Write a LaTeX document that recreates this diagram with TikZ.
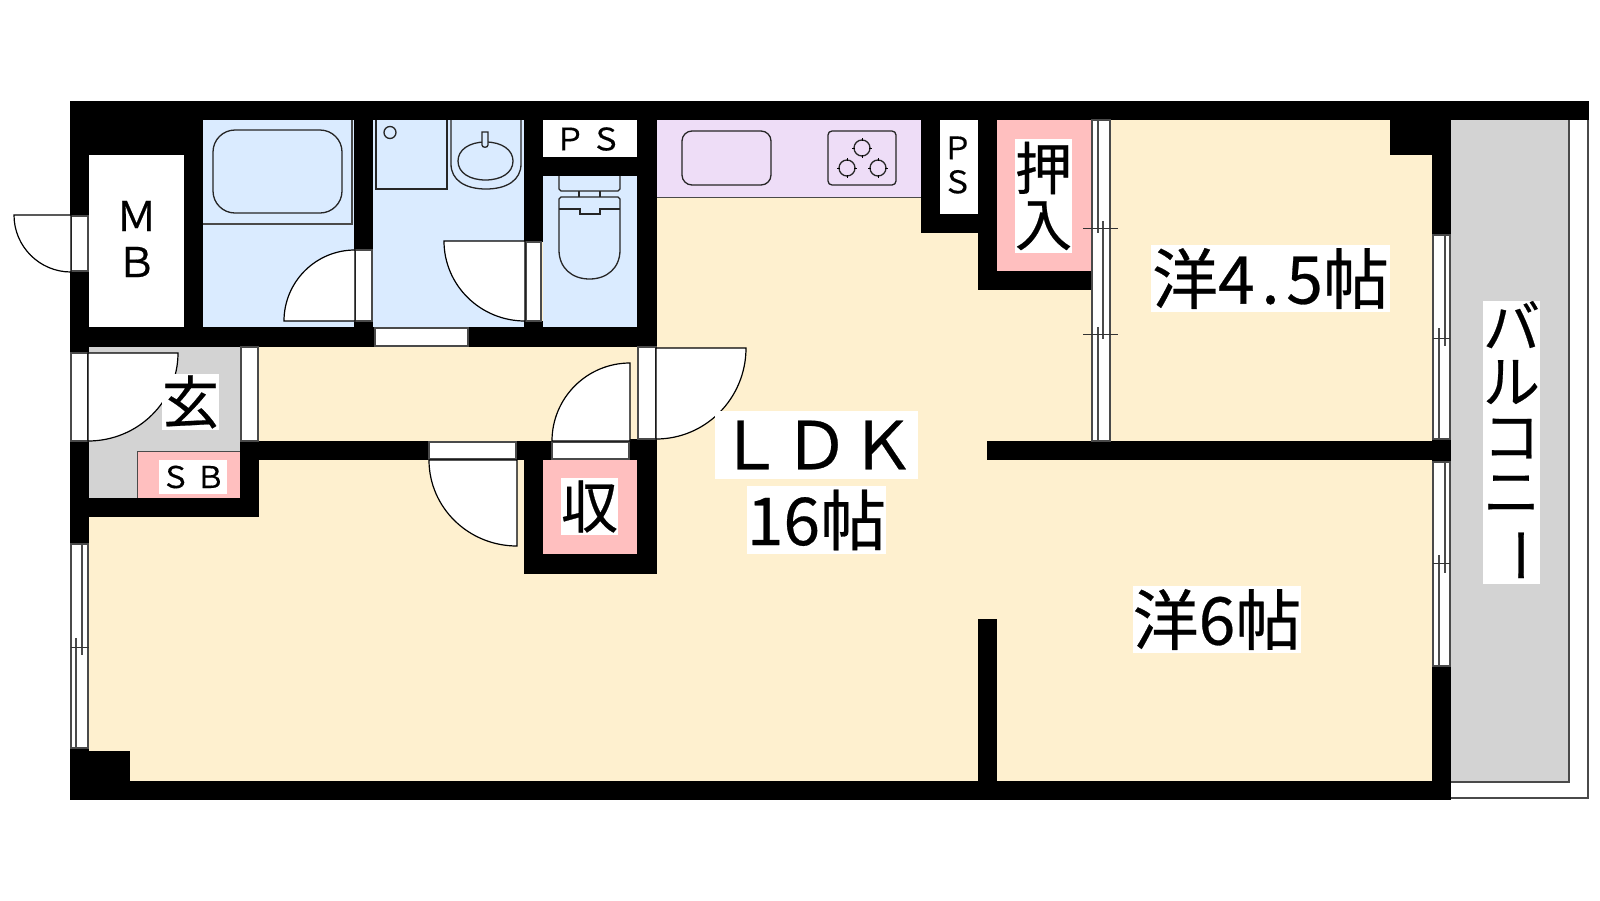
\documentclass[tikz,border=0pt]{standalone}
\usepackage{fontspec}
\setmainfont{Liberation Sans}
\newfontfamily\cjk[FakeBold=0.4]{Noto Sans CJK JP}
\definecolor{cream}{HTML}{FEF0CF}
\definecolor{bluefl}{HTML}{DAEBFF}
\definecolor{pinkfl}{HTML}{FFBFBF}
\definecolor{grayfl}{HTML}{D3D3D3}
\definecolor{purplefl}{HTML}{EEDDF7}
\definecolor{frameln}{HTML}{4A4A4A}
\tikzset{
  wallrect/.style={fill=black,draw=none},
  floorrect/.style={draw=none},
  frameb/.style={fill=white,draw=frameln,line width=1.3pt},
  leaf/.style={fill=white,draw=black,line width=1.2pt},
  fixt/.style={draw=black!85,line width=1.3pt},
  railln/.style={draw=frameln,line width=1.3pt},
  tick/.style={draw=black!80,line width=1pt},
  lab/.style={fill=white,inner sep=0pt,align=center,text=black},
}
\begin{document}
\begin{tikzpicture}[x=1pt,y=-1pt]
\useasboundingbox[fill=white] (0,0) rectangle (1600,900);
% floors
\fill[cream,floorrect] (89,120) rectangle (1432,781);
\fill[bluefl,floorrect] (203,120) rectangle (354,327);
\fill[bluefl,floorrect] (373,120) rectangle (524,327);
\fill[bluefl,floorrect] (543,176) rectangle (637,327);
\fill[white,floorrect] (89,155) rectangle (184,327);
\fill[white,floorrect] (543,120) rectangle (637,157);
\fill[white,floorrect] (940,120) rectangle (978,214);
\fill[purplefl,floorrect] (657,120) rectangle (921,197);
\draw[frameln,line width=1pt] (657,197) -- (921,197);
\fill[pinkfl,floorrect] (997,120) rectangle (1091,271);
\fill[grayfl,floorrect] (89,347) rectangle (241,498);
\fill[pinkfl,floorrect] (137,451) rectangle (240,498);
\draw[frameln,line width=1pt] (137,498) -- (137,451) -- (240,451);
\fill[pinkfl,floorrect] (543,460) rectangle (637,554);
\fill[grayfl,floorrect] (1451,120) rectangle (1569,782);
% walls
\foreach \xa/\ya/\xb/\yb in {
 70/101/1589/120, 70/101/89/216, 70/271/89/353, 70/441/89/544, 70/748/89/800,
 70/120/203/155, 184/120/203/327, 70/327/375/347, 468/327/657/347,
 354/120/373/250, 354/321/373/327, 524/120/543/242, 524/321/543/327,
 543/157/637/176, 637/101/657/347,
 921/120/940/233, 921/214/997/233, 978/120/997/290, 978/271/1091/290,
 1390/120/1432/155, 1432/120/1451/235, 1432/439/1451/462, 987/441/1432/460,
 1432/666/1451/800, 70/781/1451/800, 978/619/997/781, 70/751/130/800,
 241/441/429/460, 516/441/552/460, 629/439/657/460, 240/441/259/517, 70/498/259/517,
 524/460/543/574, 637/460/657/574, 524/554/657/574}
 {\fill[wallrect] (\xa,\ya) rectangle (\xb,\yb);}
% balcony outline
\draw[frameln,line width=1.6pt] (1569,120) -- (1569,782) -- (1451,782);
\draw[frameln,line width=1.4pt] (1451,798) -- (1588,798) -- (1588,120);
% doors: frames and leaves
\draw[frameb] (71,216) rectangle (88,271);
\draw[leaf] (71,215) -- (14,215) arc[start angle=180,end angle=90,radius=57] -- cycle;
\draw[frameb] (355,250) rectangle (372,321);
\draw[leaf] (355,321) -- (284,321) arc[start angle=180,end angle=270,radius=71] -- cycle;
\draw[frameb] (526,242) rectangle (541,321);
\draw[leaf] (525,241) -- (444,241) arc[start angle=180,end angle=90,x radius=81,y radius=80] -- cycle;
\draw[frameb] (375,328) rectangle (468,346);
\draw[frameb] (71,353) rectangle (88,441);
\draw[leaf] (88,353) -- (178,353) arc[start angle=0,end angle=90,x radius=90,y radius=88] -- cycle;
\draw[frameb] (241,347) rectangle (258,441);
\draw[frameb] (429,442) rectangle (516,459);
\draw[leaf] (517,460) -- (429,460) arc[start angle=180,end angle=90,x radius=88,y radius=86] -- cycle;
\draw[frameb] (552,442) rectangle (629,459);
\draw[leaf] (630,441) -- (552,441) arc[start angle=180,end angle=270,radius=78] -- cycle;
\draw[frameb] (638,347) rectangle (656,439);
\draw[leaf] (656,348) -- (746,348) arc[start angle=0,end angle=90,x radius=90,y radius=91] -- cycle;
% sliding windows
\draw[frameb] (1092,120) rectangle (1110,441);
\draw[railln] (1098,120) -- (1098,233) (1103,221) -- (1103,339) (1098,327) -- (1098,441);
\draw[tick] (1083,228) -- (1118,228) (1083,334) -- (1118,334);
\draw[frameb] (1433,235) rectangle (1450,439);
\draw[railln] (1445,235) -- (1445,346) (1439,328) -- (1439,439);
\draw[tick] (1433,338) -- (1450,338);
\draw[frameb] (1433,462) rectangle (1450,666);
\draw[railln] (1445,462) -- (1445,573) (1439,555) -- (1439,666);
\draw[tick] (1433,563) -- (1450,563);
\draw[frameb] (71,544) rectangle (88,748);
\draw[railln] (82,544) -- (82,655) (76,638) -- (76,748);
\draw[tick] (71,647) -- (89,647);
% bath
\draw[fixt,draw=frameln] (203,224) -- (352,224) -- (352,120);
\draw[fixt] (213,152) -- (213,191) arc[start angle=180,end angle=90,radius=22] -- (320,213) arc[start angle=90,end angle=0,radius=22] -- (342,152) arc[start angle=0,end angle=-90,radius=22] -- (235,130) arc[start angle=-90,end angle=-180,radius=22] -- cycle;
% wash
\draw[fixt] (376,120) -- (376,189) -- (447,189) -- (447,120);
\draw[fixt] (390,132.5) circle[radius=6];
\draw[fixt] (451,120) -- (451,164) .. controls (451,180) and (465,189) .. (486,189) .. controls (507,189) and (521,180) .. (521,164) -- (521,120);
\draw[fixt] (485.5,142) .. controls (469,142) and (458,150) .. (458,161) .. controls (458,173) and (470,180) .. (485.5,180) .. controls (501,180) and (513,173) .. (513,161) .. controls (513,150) and (502,142) .. (485.5,142);
\draw[fixt,fill=bluefl] (482,132) -- (482,145) .. controls (482,148) and (488,148) .. (488,145) -- (488,132) -- cycle;
% toilet
\draw[fixt] (559,176) -- (559,189) -- (561,191) -- (618,191) -- (620,189) -- (620,176);
\draw[fixt] (579,191) -- (579,197) (600,191) -- (600,197);
\draw[fixt] (561,197) -- (618,197) -- (620,199) -- (620,250) .. controls (620,268) and (607,279) .. (589.5,279) .. controls (572,279) and (559,268) .. (559,250) -- (559,199) -- cycle;
\draw[fixt] (559,209) -- (580,209) -- (580,214) -- (600,214) -- (600,209) -- (620,209);
% kitchen
\draw[fixt,rounded corners=10pt] (682,131) rectangle (771,185);
\draw[fixt,rounded corners=4pt] (828,131) rectangle (896,185);
\foreach \cx/\cy in {862/148,847/168,878/168}{
  \draw[fixt] (\cx,\cy) circle[radius=8];
  \draw[black,line width=1pt] (\cx-10,\cy) -- (\cx-7,\cy) (\cx+7,\cy) -- (\cx+10,\cy) (\cx,\cy-10) -- (\cx,\cy-7) (\cx,\cy+7) -- (\cx,\cy+10);
}
% labels
\node[lab,font=\fontsize{41}{46}\selectfont\cjk] (mb) at (136.5,239) {Ｍ\\Ｂ};
\node[lab,font=\fontsize{31}{31}\selectfont\cjk,minimum width=80pt] (ps1) at (588,139) {Ｐ\,Ｓ};
\node[lab,font=\fontsize{31}{34}\selectfont\cjk,minimum width=30pt] (ps2) at (957.5,165) {Ｐ\\Ｓ};
\node[lab,font=\fontsize{57}{56}\selectfont\cjk,minimum width=57pt,minimum height=114pt] (oshi) at (1043.5,196) {押\\入};
\node[lab,font=\fontsize{57}{57}\selectfont\cjk,minimum width=57pt,minimum height=56pt] (gen) at (190.5,402) {玄};
\node[lab,font=\fontsize{30}{30}\selectfont\cjk,minimum width=68pt,minimum height=34pt] (sb) at (193,477) {Ｓ\,Ｂ};
\node[lab,font=\fontsize{57}{57}\selectfont\cjk,minimum width=57pt,minimum height=57pt] (shu) at (589.5,506.5) {収};
\node[lab,font=\fontsize{66}{66}\selectfont\cjk,minimum width=203pt,minimum height=68pt] (ldk) at (816.5,445) {ＬＤＫ};
\node[lab,font=\fontsize{66}{66}\selectfont\cjk,minimum width=135pt,minimum height=68pt] (sixteen) at (816.5,520) {16帖};
\node[lab,font=\fontsize{66}{66}\selectfont\cjk,minimum width=239pt,minimum height=67pt] (y45) at (1270.5,278.5) {洋4\hspace{.1em}.\hspace{.1em}5帖};
\node[lab,font=\fontsize{66}{66}\selectfont\cjk,minimum width=168pt,minimum height=67pt] (y6) at (1217,619.5) {洋6帖};
\node[lab,font=\fontsize{57}{55}\selectfont\cjk,minimum width=57pt,minimum height=283pt] (bal) at (1511.5,442.5) {バ\\ル\\コ\\ニ\\\rotatebox[origin=c]{-90}{ー}};
\end{tikzpicture}
\end{document}
